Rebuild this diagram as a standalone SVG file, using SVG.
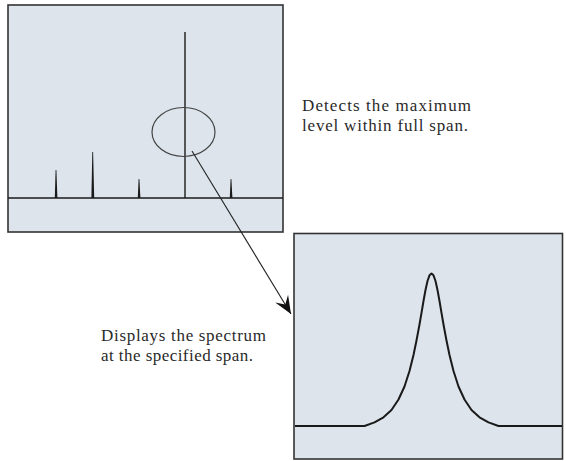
<svg xmlns="http://www.w3.org/2000/svg" width="566" height="461" viewBox="0 0 566 461">
<style>
.panel{fill:#dde4ec;stroke:#333;stroke-width:1.6}
.trace{fill:none;stroke:#1a1a1a;stroke-width:1.4}
.spike{fill:#1a1a1a;stroke:none}
.lbl{font-family:"Liberation Serif","Times New Roman",serif;font-size:17px;fill:#2a2a2a}
</style>
<defs>
<marker id="ah" markerUnits="userSpaceOnUse" markerWidth="24" markerHeight="24" viewBox="-20 -10 24 20" refX="0" refY="0" orient="auto">
<path d="M0,0 L-18,-7.5 L-11,0 L-18,7.5 Z" fill="#111"/>
</marker>
</defs>
<g id="fullspan">
<rect class="panel" x="8" y="5" width="275" height="227"/>
<line class="trace" x1="8" y1="198" x2="283" y2="198"/>
<path class="spike" d="M54.8,198 L55.6,170 L56.4,170 L57.4,198 Z"/>
<path class="spike" d="M91.4,198 L92.3,152 L93.1,152 L94.2,198 Z"/>
<path class="spike" d="M137.8,198 L138.6,179 L139.4,179 L140.4,198 Z"/>
<path class="spike" d="M229.8,198 L230.6,179 L231.4,179 L232.4,198 Z"/>
<line x1="185" y1="32" x2="185" y2="198" stroke="#1a1a1a" stroke-width="1.4"/>
<ellipse cx="183.5" cy="132" rx="31.5" ry="24.5" fill="none" stroke="#444" stroke-width="1.2"/>
</g>
<g id="zoomspan">
<rect class="panel" x="294" y="233.5" width="268.5" height="225.5"/>
<path fill="none" stroke="#1a1a1a" stroke-width="2" stroke-linejoin="round" d="M295,426 L364.5,426 L374.5,422.4 L383.5,417.3 L391.5,410 L398.5,399.5 L404.5,386.5 L409.5,371 L413.5,355 L416.5,340.5 L419.5,324.5 L421.5,312.8 L423.5,301 L425.5,290 L427.5,281 L429.5,275.3 L431.5,273.5 L433.5,275.3 L435.5,281 L437.5,290 L439.5,301 L441.5,312.8 L443.5,324.5 L446.5,340.5 L449.5,355 L453.5,371 L458.5,386.5 L464.5,399.5 L471.5,410 L479.5,417.3 L488.5,422.4 L498.5,426 L562,426"/>
</g>
<g id="connectors">
<line x1="192" y1="151" x2="291" y2="314" stroke="#222" stroke-width="1.1" marker-end="url(#ah)"/>
</g>
<g id="label-detects">
<text class="lbl" x="302" y="111" textLength="169" lengthAdjust="spacing">Detects the maximum</text>
<text class="lbl" x="302" y="131" textLength="166" lengthAdjust="spacing">level within full span.</text>
</g>
<g id="label-displays">
<text class="lbl" x="101" y="341" textLength="165" lengthAdjust="spacing">Displays the spectrum</text>
<text class="lbl" x="101" y="361" textLength="152" lengthAdjust="spacing">at the specified span.</text>
</g>
</svg>
